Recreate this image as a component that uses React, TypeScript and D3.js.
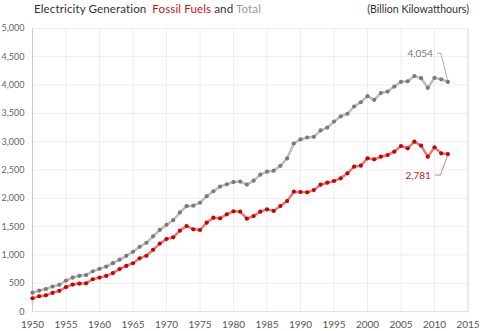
import React from "react";
import * as d3 from "d3";

const years: number[] = d3.range(1950, 2013);
const totalValues: number[] = [
  334, 371, 399, 443, 472, 547, 601, 632, 645, 710,
  755, 794, 855, 917, 984, 1055, 1144, 1214, 1329, 1442,
  1532, 1613, 1750, 1861, 1870, 1921, 2038, 2124, 2206, 2247,
  2286, 2295, 2241, 2310, 2416, 2470, 2487, 2572, 2704, 2967,
  3038, 3073, 3084, 3197, 3247, 3353, 3444, 3492, 3620, 3695,
  3802, 3737, 3858, 3883, 3971, 4055, 4065, 4157, 4119, 3950,
  4125, 4100, 4054,
];
const fossilValues: number[] = [
  236, 271, 288, 331, 366, 431, 477, 495, 499, 571,
  600, 630, 680, 750, 806, 853, 940, 986, 1092, 1200,
  1281, 1311, 1428, 1511, 1452, 1440, 1570, 1657, 1646, 1717,
  1770, 1764, 1640, 1687, 1764, 1805, 1776, 1864, 1952, 2116,
  2111, 2105, 2146, 2240, 2275, 2305, 2352, 2440, 2557, 2575,
  2705, 2687, 2734, 2764, 2822, 2923, 2882, 2999, 2929, 2734,
  2900, 2794, 2781,
];
const yTicks: number[] = [0, 500, 1000, 1500, 2000, 2500, 3000, 3500, 4000, 4500, 5000];
const xTicks: number[] = [1950, 1955, 1960, 1965, 1970, 1975, 1980, 1985, 1990, 1995, 2000, 2005, 2010, 2015];

const W = 480;
const H = 331;
const L = 32.5, R = 468, T = 28.3, B = 311.6;
const FONT = "Lato, 'Open Sans', sans-serif";

export default function App() {
  const x = d3.scaleLinear().domain([1950, 2015]).range([L, R]);
  const y = d3.scaleLinear().domain([0, 5000]).range([B, T]);
  const fmt = d3.format(",");
  const line = d3.line<number>().x((_, i) => x(years[i])).y((d) => y(d));
  const lastYear = years[years.length - 1];
  const lastTotal = totalValues[totalValues.length - 1];
  const lastFossil = fossilValues[fossilValues.length - 1];
  const px = x(lastYear);
  return (
    <svg width={W} height={H} style={{ position: "absolute", left: 0, top: 0, fontFamily: FONT }}>
      <rect width={W} height={H} fill="#fff" />
      {yTicks.map((t) => (
        <line key={"gy" + t} x1={L} x2={R} y1={y(t)} y2={y(t)} stroke="#eeeeee" strokeWidth={1} />
      ))}
      {xTicks.map((t) => (
        <line key={"gx" + t} x1={x(t)} x2={x(t)} y1={T} y2={B} stroke="#eeeeee" strokeWidth={1} />
      ))}
      <line x1={R} x2={R} y1={T} y2={B} stroke="#dddddd" strokeWidth={1} />
      <line x1={L} x2={L} y1={T} y2={B} stroke="#cccccc" strokeWidth={1} />
      <line x1={L} x2={R} y1={B} y2={B} stroke="#dddddd" strokeWidth={1} />
      {yTicks.map((t) => (
        <text key={"ly" + t} x={24.5} y={y(t)} dy="0.35em" textAnchor="end" fontSize={9} fill="#666">
          {fmt(t)}
        </text>
      ))}
      {xTicks.map((t) => (
        <text key={"lx" + t} x={x(t)} y={328} textAnchor="middle" fontSize={10} fill="#555">
          {t}
        </text>
      ))}
      <path d={line(totalValues) || ""} fill="none" stroke="#bdbdbd" strokeWidth={2.5} />
      {totalValues.map((v, i) => (
        <circle key={"ct" + i} cx={x(years[i])} cy={y(v)} r={2.1} fill="#7a7a7a" />
      ))}
      <path d={line(fossilValues) || ""} fill="none" stroke="#e57a7a" strokeWidth={2.5} />
      {fossilValues.map((v, i) => (
        <circle key={"cf" + i} cx={x(years[i])} cy={y(v)} r={2.1} fill="#cc0000" />
      ))}
      <polyline
        points={`${px - 11},${y(4560)} ${px - 7},${y(4560)} ${px - 0.5},${y(lastTotal) - 2}`}
        fill="none" stroke="#999" strokeWidth={0.8}
      />
      <text x={px - 15} y={y(4560)} dy="0.35em" textAnchor="end" fontSize={10} fill="#777">
        {fmt(lastTotal)}
      </text>
      <polyline
        points={`${px - 13},${y(2410)} ${px - 7.5},${y(2410)} ${px - 0.5},${y(lastFossil) + 2}`}
        fill="none" stroke="#d06060" strokeWidth={0.8}
      />
      <text x={px - 17} y={y(2410)} dy="0.35em" textAnchor="end" fontSize={10} fill="#cc2222">
        {fmt(lastFossil)}
      </text>
      <text x={34} y={12.5} fontSize={11.6} fill="#333" letterSpacing={0.1}>
        <tspan>Electricity Generation</tspan>
        <tspan dx={6} fill="#cc1111">Fossil Fuels</tspan>
        <tspan fill="#333"> and </tspan>
        <tspan fill="#999">Total</tspan>
      </text>
      <text x={469} y={12.5} fontSize={10.6} fill="#333" textAnchor="end">
        (Billion Kilowatthours)
      </text>
    </svg>
  );
}
